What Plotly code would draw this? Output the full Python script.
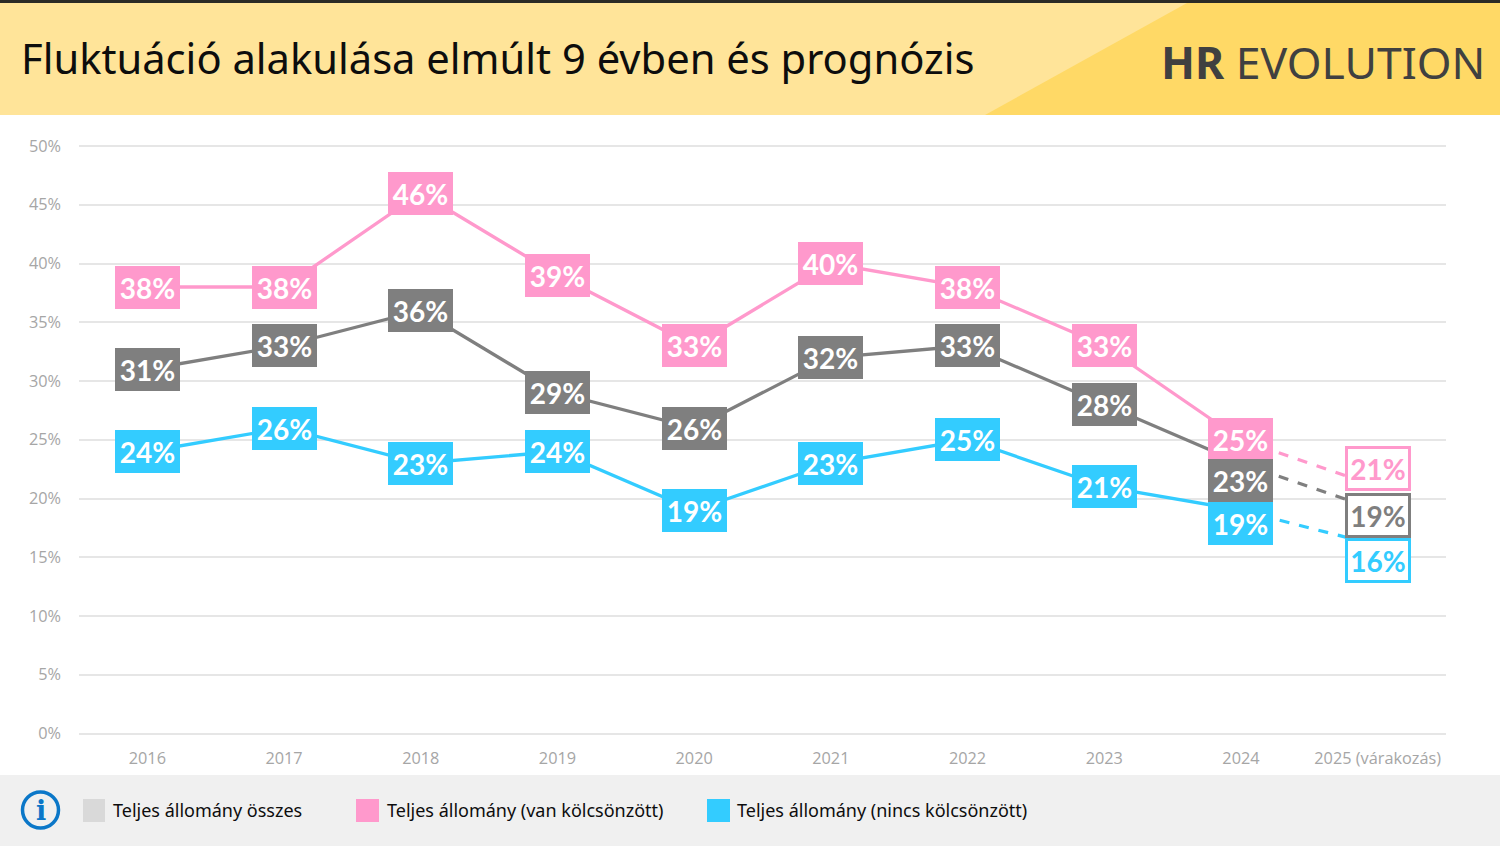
import plotly.graph_objects as go

years = ['2016', '2017', '2018', '2019', '2020', '2021', '2022', '2023', '2024', '2025 (várakozás)']
kolcsonzott = [38, 38, 46, 39, 33, 40, 38, 33, 25, 21]
osszes = [31, 33, 36, 29, 26, 32, 33, 28, 23, 19]
nincs = [24, 26, 23, 24, 19, 23, 25, 21, 19, 16]
y_ticks = [0, 5, 10, 15, 20, 25, 30, 35, 40, 45, 50]

PINK = '#FF99CC'
GRAY = '#7F7F7F'
BLUE = '#33CCFF'
W, H = 1500, 846

# labels pushed down by hand so they do not overlap at the end of the chart
label_shift = {
    (GRAY, 8): -17, (BLUE, 8): -13,
    (PINK, 9): 18, (GRAY, 9): -5, (BLUE, 9): -15,
}

# plotly drops gridlines sitting right on the range ends, so leave a little room
y_pad = 0.2
y_pad_px = y_pad * (733.5 - 146) / 50


def px(x):
    return x / W


def py(y):
    return 1 - y / H


fig = go.Figure()
shapes = []
annotations = []

# solid part up to 2024, dashed to the forecast, boxes as annotations
for name, values, color in [('Teljes állomány (van kölcsönzött)', kolcsonzott, PINK),
                            ('Teljes állomány összes', osszes, GRAY),
                            ('Teljes állomány (nincs kölcsönzött)', nincs, BLUE)]:
    fig.add_trace(go.Scatter(x=years[:9], y=values[:9], mode='lines', name=name,
                             line=dict(color=color, width=3.3)))
    fig.add_trace(go.Scatter(x=years[8:], y=values[8:], mode='lines', name=name, showlegend=False,
                             line=dict(color=color, width=3.3, dash='10px 10px')))
    for i, v in enumerate(values):
        forecast = i == 9
        # annotation x on a category axis is the serial number of the category
        annotations.append(dict(
            x=i, y=v, xref='x', yref='y', text=f'<b>{v}%</b>', showarrow=False,
            yshift=label_shift.get((color, i), 0),
            font=dict(family='Lato', size=28, color=color if forecast else 'white'),
            bgcolor='white' if forecast else color,
            bordercolor=color, borderwidth=3 if forecast else 0, borderpad=0,
            width=60 if forecast else 65, height=39 if forecast else 43,
            align='center', valign='middle'))


def rect(x0, y0, x1, y1, color):
    shapes.append(dict(type='rect', xref='paper', yref='paper', layer='below',
                       x0=px(x0), x1=px(x1), y0=py(y0), y1=py(y1),
                       fillcolor=color, line=dict(width=0)))


# header
rect(0, 0, W, 3, '#2B2B26')
rect(0, 3, W, 115, '#FFE499')
shapes.append(dict(type='path', xref='paper', yref='paper', layer='below', fillcolor='#FFD966',
                   line=dict(width=0),
                   path=f'M {px(1187)} {py(3)} L {px(W)} {py(3)} L {px(W)} {py(115)} L {px(985)} {py(115)} Z'))

# footer + legend squares
rect(0, 775, W, H, '#F0F0F0')
rect(83, 799, 105, 822, '#D9D9D9')
rect(356, 799, 379, 822, PINK)
rect(707, 799, 730, 822, BLUE)
shapes.append(dict(type='circle', xref='paper', yref='paper', layer='below',
                   x0=px(22.5), x1=px(58.5), y0=py(792), y1=py(828),
                   fillcolor='#F0F0F0', line=dict(color='#0B77C8', width=3.5)))


def text(x, y, s, size, color, family='Inter', anchor='left'):
    annotations.append(dict(x=px(x), y=py(y), xref='paper', yref='paper', text=s, showarrow=False,
                            xanchor=anchor, yanchor='middle', borderpad=0,
                            font=dict(family=family, size=size, color=color)))


text(20, 57, 'Fluktuáció alakulása elmúlt 9 évben és prognózis', 41.7, '#0D0D0D', 'Noto Sans')
text(1486, 61, '<b>HR</b> EVOLUTION', 44.5, '#404040', 'Noto Sans', 'right')
text(112, 810, 'Teljes állomány összes', 18, '#0D0D0D', 'Noto Sans')
text(386, 810, 'Teljes állomány (van kölcsönzött)', 18, '#0D0D0D', 'Noto Sans')
text(736, 810, 'Teljes állomány (nincs kölcsönzött)', 18, '#0D0D0D', 'Noto Sans')
text(40.5, 810, '<b>i</b>', 27, '#0B77C8', 'DejaVu Serif', 'center')

fig.update_layout(
    width=W, height=H, margin=dict(l=0, r=0, t=0, b=0, pad=0, autoexpand=False),
    paper_bgcolor='white', plot_bgcolor='white', showlegend=False,
    shapes=shapes, annotations=annotations,
    font=dict(family='Open Sans'),
    xaxis=dict(type='category', domain=[px(79), px(1446)], range=[-0.5, 9.5], showgrid=False,
               zeroline=False, showline=False, ticks='', ticklabelstandoff=11,
               tickfont=dict(family='Open Sans', size=16.3, color='#A6A6A6')),
    yaxis=dict(domain=[py(733.5 + y_pad_px), py(146 - y_pad_px)], range=[-y_pad, 50 + y_pad],
               tickvals=y_ticks, ticktext=[f'{t}%' for t in y_ticks],
               gridcolor='#E6E6E6', gridwidth=1.5,
               zeroline=False, showline=False, ticks='', ticklabelstandoff=17,
               tickfont=dict(family='Open Sans', size=16.3, color='#A6A6A6')),
)

fig.write_html('out.html', config={'displayModeBar': False},
               post_script="document.body.style.margin='0';")
